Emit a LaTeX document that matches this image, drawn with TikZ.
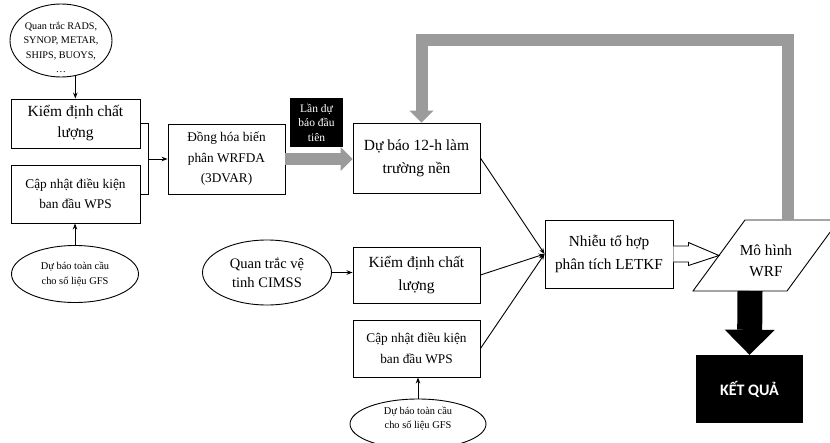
\documentclass[tikz,border=0pt]{standalone}
\usepackage{fontspec}
\setmainfont{Liberation Serif}
\newfontfamily\kqfont{Carlito}
\usetikzlibrary{arrows.meta,shapes.geometric,calc}
\definecolor{gry}{HTML}{9B9B9B}
\newcommand\fbig{\fontsize{15.5}{23}\selectfont}
\newcommand\fmid{\fontsize{13.3}{20.5}\selectfont}
\newcommand\fsmall{\fontsize{10.2}{14.5}\selectfont}
\newcommand\flbl{\fontsize{11.5}{14.5}\selectfont}
\begin{document}
\begin{tikzpicture}[x=1pt,y=-1pt,
  box/.style={draw, line width=0.9pt, inner sep=0pt, align=center, fill=white},
  oval/.style={ellipse, draw, line width=0.9pt, inner sep=0pt, align=center, fill=white},
  conn/.style={line width=0.9pt, -{Stealth[length=6pt,width=4.5pt]}},
  plain/.style={line width=0.9pt},
  grayarrow/.style={gry, line width=12pt, -{Triangle[length=12pt,width=24pt,line width=0pt]}},
  blackarrow/.style={black, line width=25pt, -{Triangle[length=25pt,width=50pt,line width=0pt]}}]
\useasboundingbox (0,0) rectangle (830,442);
\clip (0,0) rectangle (830,442);
\fill[white] (0,0) rectangle (830,442);

% left column
\node[oval, minimum width=102pt, minimum height=73pt,
  label={[name=obst, align=center, font=\fsmall, yshift=-7pt]center:{Quan trắc RADS,\\SYNOP, METAR,\\SHIPS, BUOYS,\\\dots}}] (obs) at (61,40.5) {};
\node[box, minimum width=129pt, minimum height=49pt, font=\fontsize{15.5}{21}\selectfont] (kd1) at (75.5,123.5) {Kiểm định chất\\lượng};
\node[box, minimum width=129pt, minimum height=58pt, font=\fmid] (cn1) at (75.5,194) {Cập nhật điều kiện\\ban đầu WPS};
\node[oval, minimum width=127pt, minimum height=57pt, font=\fontsize{10.4}{15}\selectfont] (gfs1) at (75,274) {Dự báo toàn cầu\\cho số liệu GFS};

\node[box, minimum width=117pt, minimum height=70pt, font=\fmid] (dh) at (226.5,159) {Đồng hóa biến\\phân WRFDA\\(3DVAR)};
\node[fill=black, text=white, minimum width=53pt, minimum height=49pt, inner sep=0pt, align=center, font=\flbl] (lbl) at (316.5,122.5) {Lần dự\\báo đầu\\tiên};

% middle column
\node[box, minimum width=127pt, minimum height=70pt, font=\fbig] (db) at (416.5,158) {Dự báo 12-h làm\\trường nền};
\node[oval, minimum width=129pt, minimum height=65pt, font=\fontsize{14.5}{19}\selectfont] (cimss) at (267,272.5) {Quan trắc vệ\\tinh CIMSS};
\node[box, minimum width=127pt, minimum height=56pt, font=\fbig] (kd2) at (416.5,275) {Kiểm định chất\\lượng};
\node[box, minimum width=127pt, minimum height=57pt, font=\fmid] (cn2) at (416.5,348.5) {Cập nhật điều kiện\\ban đầu WPS};
\node[oval, minimum width=136pt, minimum height=50pt,
  label={[name=gfs2t, align=center, font=\fontsize{10.4}{14}\selectfont, yshift=5pt]center:{Dự báo toàn cầu\\cho số liệu GFS}}] (gfs2) at (418,424) {};

% right part
\node[box, minimum width=128pt, minimum height=68pt, font=\fontsize{15.3}{23.5}\selectfont] (nh) at (609,254) {Nhiễu tổ hợp\\phân tích LETKF};
\coordinate (p1) at (745,220);
\coordinate (p2) at (839,220);
\coordinate (p3) at (787,291);
\coordinate (p4) at (693,291);
\draw[plain, fill=white] (p1) -- (p2) -- (p3) -- (p4) -- cycle;
\node[align=center, font=\fontsize{15.3}{21}\selectfont, inner sep=0pt] (wrf) at (766,261) {Mô hình\\WRF};
\coordinate (wl) at ($(p1)!0.5!(p4)$);
\coordinate (wt) at ($(p1)+(43,0)$);
\coordinate (wb) at ($(p4)+(57,0)$);
\node[fill=black, text=white, minimum width=107pt, minimum height=68pt, inner sep=0pt, font=\kqfont\bfseries\fontsize{16}{18}\selectfont] (res) at (749.5,389) {KẾT QUẢ};

% connectors left
\draw[conn] (obs.-68) -- (obs.-68 |- kd1.north);
\draw[conn] (gfs1.north) -- (gfs1.north |- cn1.south);
\coordinate (j) at ($(kd1.east)+(8,0)$);
\draw[plain] (kd1.east) -- (j) |- (cn1.east);
\draw[conn] (j |- dh.west) -- (dh.west);

% gray arrows
\draw[grayarrow] (dh.east) -- (dh.east -| db.west);
\draw[grayarrow] (wt) -- ++(0,-180) -| ($(db.north)+(5,0)$);

% middle connectors
\draw[conn] (cimss.east) -- (cimss.east -| kd2.west);
\draw[conn] (gfs2.north) -- (gfs2.north |- cn2.south);
\draw[conn] (db.east) -- (nh.west);
\draw[conn] (kd2.east) -- (nh.west);
\draw[conn] (cn2.east) -- (nh.west);

% hollow arrow
\draw[plain, fill=white] ($(nh.east)+(0,-8)$) -- ($(nh.east)+(15,-8)$) -- ($(nh.east)+(15,-11.5)$)
  -- (wl) -- ($(nh.east)+(15,11.5)$) -- ($(nh.east)+(15,8)$) -- ($(nh.east)+(0,8)$);

% black arrow
\draw[blackarrow] (wb) -- (res.north);
\end{tikzpicture}
\end{document}
